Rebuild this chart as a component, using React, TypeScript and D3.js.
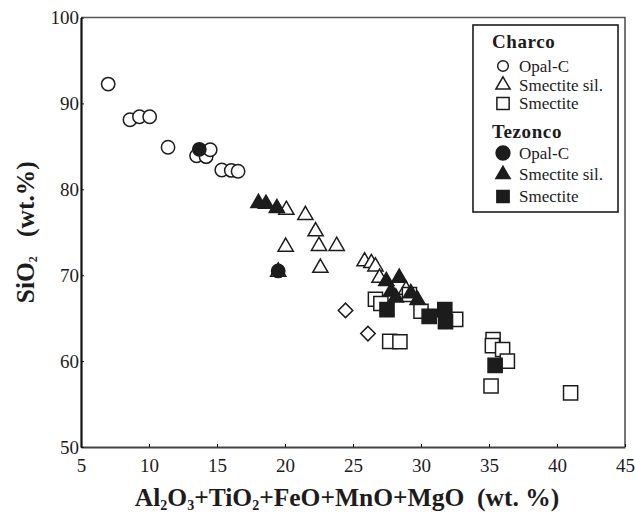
import React, { useEffect, useRef } from 'react'
import * as d3 from 'd3'

// [Al2O3+TiO2+FeO+MnO+MgO, SiO2] in wt.%
const charcoOpal = [
  [7.0, 92.25], [8.6, 88.1], [9.3, 88.45], [10.05, 88.45], [11.4, 84.9],
  [13.5, 83.9], [14.2, 83.8], [14.5, 84.6], [15.35, 82.25], [16.05, 82.2], [16.55, 82.1]
]
const charcoSmectiteSil = [
  [19.5, 70.4], [20.1, 77.6], [20.05, 73.3], [21.5, 77.0], [22.25, 75.1],
  [22.5, 73.4], [22.6, 70.85], [23.8, 73.4], [25.85, 71.6], [26.35, 71.4],
  [26.65, 71.0], [26.95, 69.7], [28.9, 68.3]
]
const charcoSmectite = [
  [26.65, 67.2], [27.05, 66.7], [29.15, 67.75], [30.0, 65.8], [32.55, 64.85],
  [27.7, 62.3], [28.45, 62.25], [35.3, 62.5], [35.25, 61.8], [36.0, 61.35],
  [36.35, 60.0], [35.15, 57.1], [41.0, 56.3]
]
const tezoncoOpal = [[13.7, 84.65], [19.5, 70.5]]
const tezoncoSmectiteSil = [
  [18.05, 78.4], [18.6, 78.3], [19.4, 77.8],
  [27.45, 69.3], [28.4, 69.7], [27.8, 68.1], [28.15, 67.4], [29.25, 67.9], [29.75, 67.1]
]
const tezoncoSmectite = [[27.5, 66.0], [30.6, 65.2], [31.75, 66.0], [31.8, 64.6], [35.45, 59.5]]
const otherPoints = [[24.45, 65.9], [26.1, 63.2]]

const xTicks = [5, 10, 15, 20, 25, 30, 35, 40, 45]
const yTicks = [50, 60, 70, 80, 90, 100]

const legendTitles = ['Charco', 'Tezonco']
const legendLabels = ['Opal-C', 'Smectite sil.', 'Smectite']

const W = 635, H = 517
const plot = { left: 81, right: 625, top: 17.5, bottom: 447 }

const font = '"Liberation Serif", "Times New Roman", serif'
const ink = '#1c1c1c'

export default function App() {
  const ref = useRef<SVGSVGElement>(null)

  useEffect(() => {
    const svg = d3.select(ref.current)
    svg.selectAll('*').remove()

    const x = d3.scaleLinear([5, 45], [plot.left, plot.right])
    const y = d3.scaleLinear([50, 100], [plot.bottom, plot.top])

    const sym = (type: d3.SymbolType, size: number) => d3.symbol().type(type).size(size)()
    const shapes = {
      circle: sym(d3.symbolCircle, 140),
      triangle: sym(d3.symbolTriangle, 100),
      square: sym(d3.symbolSquare, 200),
      diamond: sym(d3.symbolSquare, 105)
    }

    // frame: thin top/right
    svg.append('path')
      .attr('d', `M${x(5)},${y(100)}H${x(45)}V${y(50)}`)
      .attr('fill', 'none').attr('stroke', '#555').attr('stroke-width', 1.6)

    const points = svg.append('g')
    const draw = (data: number[][], path: string, filled: boolean, rot = 0) => {
      points.append('g').selectAll('path')
        .data(data)
        .join('path')
        .attr('d', path)
        .attr('transform', d => `translate(${x(d[0])},${y(d[1])}) rotate(${rot})`)
        .attr('fill', filled ? ink : 'white')
        .attr('stroke', ink)
        .attr('stroke-width', 1.5)
    }
    draw(charcoOpal, shapes.circle, false)
    draw(otherPoints, shapes.diamond, false, 45)
    draw(charcoSmectiteSil, shapes.triangle, false)
    draw(charcoSmectite, shapes.square, false)
    draw(tezoncoOpal, shapes.circle, true)
    draw(tezoncoSmectiteSil, shapes.triangle, true)
    draw(tezoncoSmectite, shapes.square, true)

    // axes
    const xAxis = svg.append('g').attr('transform', `translate(0,${y(50)})`)
      .call(d3.axisBottom(x).tickValues(xTicks).tickSizeInner(-3).tickSizeOuter(0).tickPadding(12))
    const yAxis = svg.append('g').attr('transform', `translate(${x(5)},0)`)
      .call(d3.axisLeft(y).tickValues(yTicks).tickSizeInner(-3).tickSizeOuter(0).tickPadding(2))
    xAxis.select('.domain').attr('stroke', '#444').attr('stroke-width', 1.8)
    yAxis.select('.domain').attr('stroke', '#111').attr('stroke-width', 2.2)
    for (const g of [xAxis, yAxis]) {
      g.selectAll('.tick line').attr('stroke', '#111')
      g.selectAll('.tick text').attr('font-family', font).attr('font-size', 19).attr('fill', ink)
    }

    // axis titles
    const xt = svg.append('text')
      .attr('x', (plot.left + plot.right) / 2 - 6).attr('y', 506)
      .attr('text-anchor', 'middle').attr('fill', ink)
      .attr('font-family', font).attr('font-weight', 'bold').attr('font-size', 25.5)
    const parts: [string, boolean][] = [
      ['Al', false], ['2', true], ['O', false], ['3', true], ['+TiO', false], ['2', true],
      ['+FeO+MnO+MgO\u00a0\u00a0(wt. %)', false]
    ]
    parts.forEach(([t, sub]) => {
      xt.append('tspan').text(t)
        .attr('font-size', sub ? 14 : 25.5)
        .attr('baseline-shift', sub ? '-4' : null)
    })

    const yt = svg.append('text')
      .attr('transform', `translate(34,${(plot.top + plot.bottom) / 2}) rotate(-90)`)
      .attr('text-anchor', 'middle').attr('fill', ink)
      .attr('font-family', font).attr('font-weight', 'bold').attr('font-size', 25.5)
    yt.append('tspan').text('SiO')
    yt.append('tspan').text('2').attr('font-size', 12).attr('baseline-shift', '-3')
    yt.append('tspan').text('\u00a0\u00a0\u00a0(wt.%)')

    // legend
    const legend = svg.append('g')
    legend.append('rect')
      .attr('x', 473).attr('y', 25).attr('width', 145).attr('height', 187)
      .attr('fill', 'white').attr('stroke', ink).attr('stroke-width', 1.6)

    const legShapes = [
      sym(d3.symbolCircle, 90), sym(d3.symbolTriangle, 88), sym(d3.symbolSquare, 150)
    ]
    const titleY = [48, 138]
    const rowY = [[66, 85, 103.5], [153, 174.5, 196.5]]
    legendTitles.forEach((title, gi) => {
      legend.append('text').attr('x', 492).attr('y', titleY[gi])
        .attr('font-family', font).attr('font-weight', 'bold').attr('font-size', 19)
        .attr('fill', ink).attr('letter-spacing', 0.6).text(title)
      legendLabels.forEach((lab, i) => {
        const cy = rowY[gi][i]
        legend.append('path')
          .attr('d', gi === 1 && i === 0 ? sym(d3.symbolCircle, 150) : legShapes[i])
          .attr('transform', `translate(503,${cy})`)
          .attr('fill', gi === 1 ? ink : 'white')
          .attr('stroke', ink).attr('stroke-width', 1.5)
        legend.append('text').attr('x', 519).attr('y', cy + 5.5)
          .attr('font-family', font).attr('font-size', 17).attr('fill', ink).text(lab)
      })
    })
  }, [])

  return (
    <svg ref={ref} width={W} height={H}
      style={{ position: 'absolute', left: 0, top: 0, background: 'white', fontFamily: font }} />
  )
}
